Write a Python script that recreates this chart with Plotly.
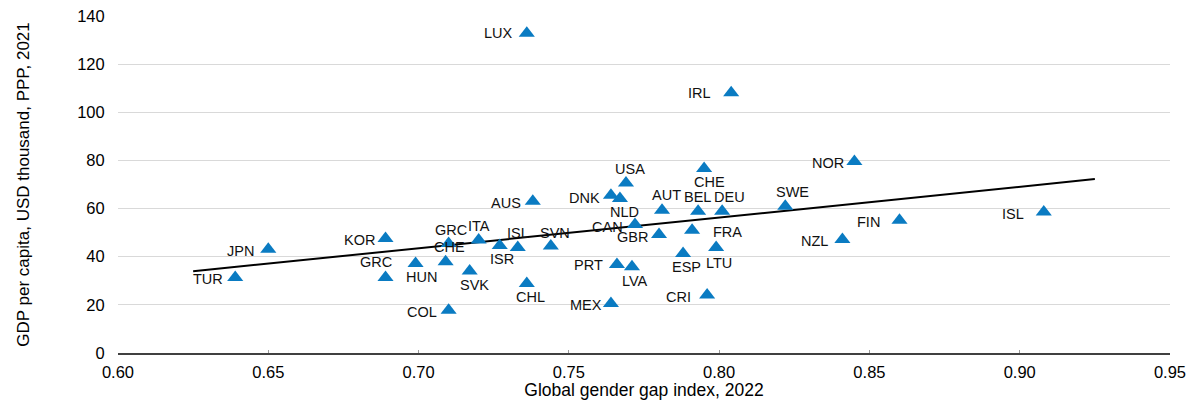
import numpy as np
import plotly.graph_objects as go

# ---- data ----
codes = ["LUX", "IRL", "NOR", "SWE", "FIN", "NZL", "ISL", "JPN", "TUR", "KOR",
         "GRC", "HUN", "COL", "SVK", "GRC", "CHE", "ITA", "ISR", "ISL", "SVN",
         "AUS", "CHL", "DNK", "USA", "NLD", "CAN", "GBR", "PRT", "LVA", "MEX",
         "AUT", "BEL", "DEU", "CHE", "FRA", "ESP", "LTU", "CRI"]
gender_gap = [0.736, 0.804, 0.845, 0.822, 0.860, 0.841, 0.908, 0.650, 0.639, 0.689,
              0.689, 0.699, 0.710, 0.717, 0.710, 0.709, 0.720, 0.727, 0.733, 0.744,
              0.738, 0.736, 0.764, 0.769, 0.767, 0.772, 0.780, 0.766, 0.771, 0.764,
              0.781, 0.793, 0.801, 0.795, 0.791, 0.788, 0.799, 0.796]
gdp_pc = [132.8, 108.1, 79.6, 61.0, 55.2, 47.2, 58.6, 43.1, 31.4, 47.6,
          31.4, 37.2, 17.8, 34.1, 45.5, 37.9, 46.9, 44.7, 43.8, 44.5,
          63.0, 28.9, 65.5, 70.6, 64.2, 53.4, 49.2, 36.8, 35.8, 20.6,
          59.3, 58.9, 58.9, 76.6, 51.0, 41.3, 43.8, 24.1]

x_ticks = [0.60, 0.65, 0.70, 0.75, 0.80, 0.85, 0.90, 0.95]
y_ticks = [0, 20, 40, 60, 80, 100, 120, 140]

# ---- label offsets (px, screen: dx right, dy down) : style only ----
label_offsets = [(-28, 0), (-32, 0), (-26, 2), (7, -14), (-31, 2), (-28, 2), (-31, 2),
                 (-28, 2), (-27, 2), (-26, 2), (-10, -15), (6, 14), (-27, 2), (5, 14),
                 (2, -13), (4, -15), (0, -14), (2, 14), (0, -15), (4, -13),
                 (-27, 2), (4, 14), (-26, 3), (4, -14), (5, 14), (-27, 3), (-27, 2),
                 (-28, 1), (3, 14), (-25, 2), (4, -15), (-1, -14), (7, -14), (5, 13),
                 (35, 2), (3, 13), (3, 15), (-29, 2)]

FONT = "Liberation Sans, Arial, sans-serif"
BLUE = "#0A7BC2"

fig = go.Figure()

# trend line (OLS fit of the data)
slope, intercept = np.polyfit(gender_gap, gdp_pc, 1)
tx = np.array([0.625, 0.925])
fig.add_trace(go.Scatter(x=tx, y=slope * tx + intercept, mode="lines",
                         line=dict(color="black", width=2), hoverinfo="skip",
                         showlegend=False))

fig.add_trace(go.Scatter(x=gender_gap, y=gdp_pc, mode="markers",
                         marker=dict(symbol="triangle-up", size=14, color=BLUE),
                         text=codes, showlegend=False))

for c, gx, gy, (dx, dy) in zip(codes, gender_gap, gdp_pc, label_offsets):
    fig.add_annotation(x=gx, y=gy, text=c, showarrow=False, xshift=dx, yshift=-dy,
                       xanchor="center", yanchor="middle",
                       font=dict(family=FONT, size=14.5, color="#111111"))

fig.update_layout(
    width=1192, height=400,
    margin=dict(l=118, r=22, t=16, b=47),
    paper_bgcolor="white", plot_bgcolor="white",
    font=dict(family=FONT, size=16.5, color="black"),
    xaxis=dict(range=[0.6, 0.95], tickvals=x_ticks, automargin=False,
               ticktext=[f"{v:.2f}" for v in x_ticks],
               showgrid=False, zeroline=False, showline=True,
               linecolor="#404040", linewidth=1.5,
               ticks="inside", ticklen=3, tickcolor="#9a9a9a",
               ticklabelstandoff=3,
               title=dict(text="Global gender gap index, 2022", standoff=9,
                          font=dict(size=17.5))),
    yaxis=dict(range=[0, 140], tickvals=y_ticks, automargin=False,
               showgrid=True, gridcolor="#d9d9d9", gridwidth=1,
               zeroline=False, showline=False,
               ticks="outside", ticklen=9, tickcolor="rgba(0,0,0,0)",
               title=dict(text="GDP per capita, USD thousand, PPP, 2021", standoff=43,
                          font=dict(size=17))),
)

fig.write_html("out.html", config={"displayModeBar": False},
               post_script="document.body.style.margin='0';document.body.style.overflow='hidden';")
